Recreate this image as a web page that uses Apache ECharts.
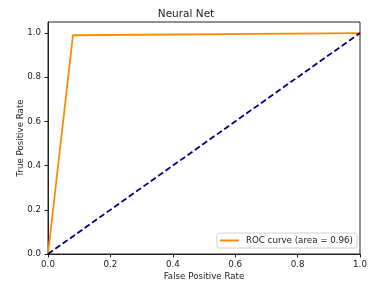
<!DOCTYPE html>
<html>
<head>
<meta charset="utf-8">
<script src="https://cdn.jsdelivr.net/npm/echarts@6/dist/echarts.min.js"></script>
<style>
  html, body { margin: 0; padding: 0; background: #fff; }
  #chart { width: 372px; height: 290px; }
</style>
</head>
<body>
<div id="chart"></div>
<script>
// ROC points
var fpr = [0, 0.08, 1];
var tpr = [0, 0.99, 1];
var chanceX = [0, 1];
var chanceY = [0, 1];
var ticks = [0, 0.2, 0.4, 0.6, 0.8, 1.0];
var rocName = 'ROC curve (area = 0.96)';

var font = 'DejaVu Sans';
var ink = '#1a1a1a';

var chart = echarts.init(document.getElementById('chart'));
chart.setOption({
  animation: false,
  title: {
    text: 'Neural Net',
    left: 'center',
    top: 4,
    textStyle: { fontFamily: font, fontSize: 10.5, fontWeight: 'normal', color: ink }
  },
  grid: {
    left: 48, right: 12, top: 22, bottom: 36,
    show: true, borderColor: '#222', borderWidth: 1
  },
  legend: {
    data: [rocName],
    right: 15, bottom: 42,
    orient: 'vertical',
    icon: 'rect', itemWidth: 19, itemHeight: 2,
    padding: [3, 4, 3, 3],
    borderColor: '#d0d0d0', borderWidth: 1, borderRadius: 2,
    backgroundColor: '#fff',
    textStyle: { fontFamily: font, fontSize: 8.7, color: ink, padding: [0, 0, 0, 2] }
  },
  xAxis: {
    type: 'value', min: 0, max: 1, interval: 0.2,
    name: 'False Positive Rate', nameLocation: 'middle', nameGap: 18,
    nameMoveOverlap: false,
    nameTextStyle: { fontFamily: font, fontSize: 8.7, color: ink },
    axisLine: { show: true, lineStyle: { color: '#222' } },
    axisTick: { show: true, length: 3.5, lineStyle: { color: '#222' } },
    axisLabel: {
      fontFamily: font, fontSize: 8.7, color: ink, margin: 6,
      formatter: function (v) { return v.toFixed(1); }
    },
    splitLine: { show: false }
  },
  yAxis: {
    type: 'value', min: 0, max: 1.05, interval: 0.2,
    name: 'True Positive Rate', nameLocation: 'middle', nameGap: 23,
    nameMoveOverlap: false,
    nameTextStyle: { fontFamily: font, fontSize: 8.7, color: ink },
    axisLine: { show: true, lineStyle: { color: '#222' } },
    axisTick: { show: true, length: 3.5, customValues: ticks, lineStyle: { color: '#222' } },
    axisLabel: {
      fontFamily: font, fontSize: 8.7, color: ink, margin: 7, customValues: ticks,
      formatter: function (v) { return v.toFixed(1); }
    },
    splitLine: { show: false }
  },
  series: [
    {
      name: rocName,
      type: 'line',
      data: fpr.map(function (x, i) { return [x, tpr[i]]; }),
      showSymbol: false,
      itemStyle: { color: '#ff8c00' },
      lineStyle: { color: '#ff8c00', width: 1.8 }
    },
    {
      name: 'chance',
      type: 'line',
      data: chanceX.map(function (x, i) { return [x, chanceY[i]]; }),
      showSymbol: false,
      itemStyle: { color: '#000080' },
      lineStyle: { color: '#000080', width: 1.8, type: [6, 3] }
    }
  ]
});
</script>
</body>
</html>
